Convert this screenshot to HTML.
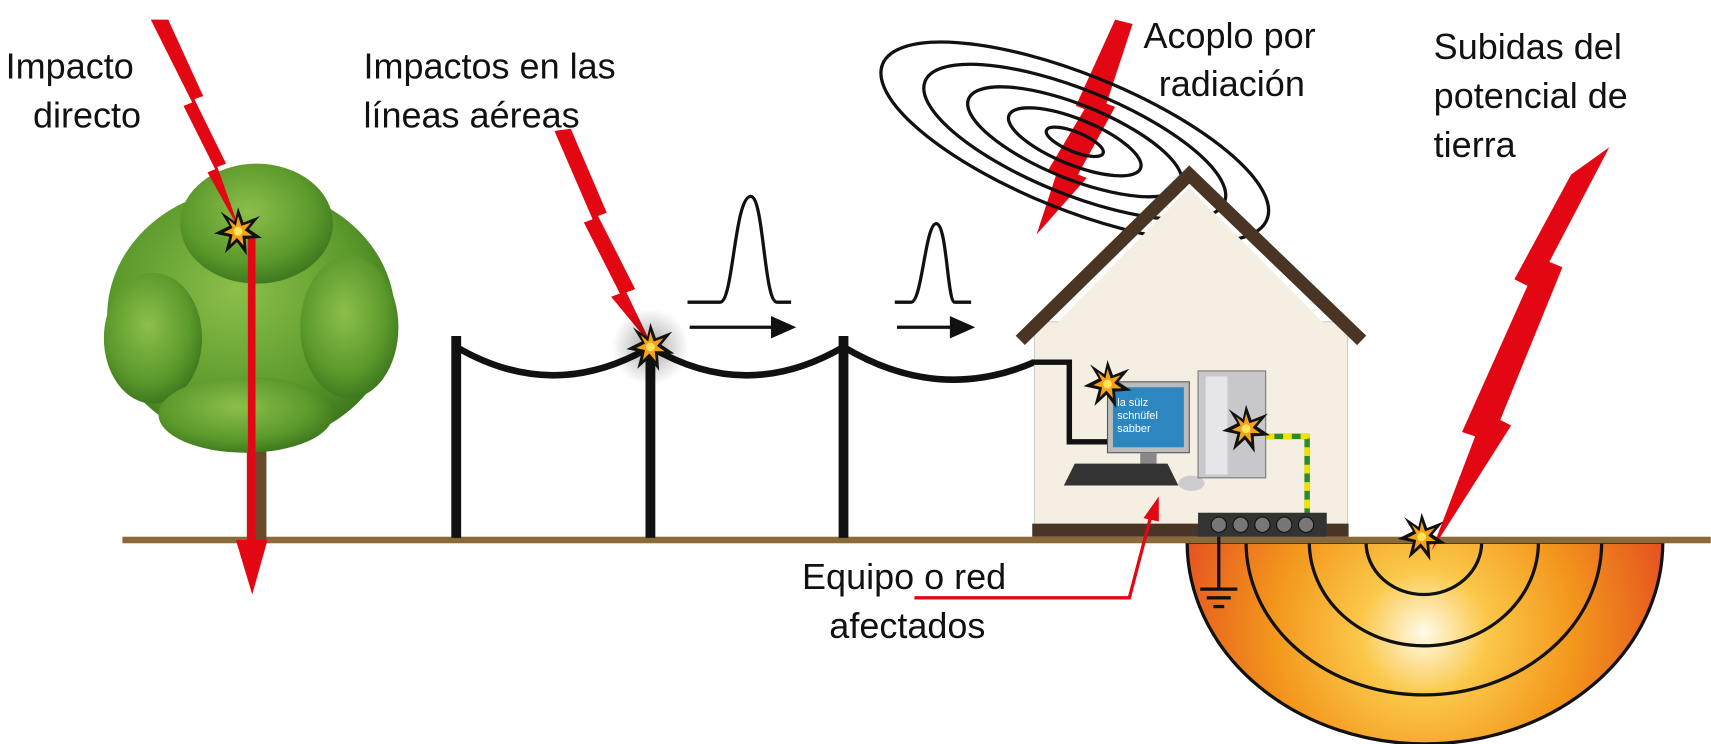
<!DOCTYPE html>
<html><head><meta charset="utf-8"><style>
html,body{margin:0;padding:0;background:#fff;}
svg{display:block}
text{font-family:"Liberation Sans",sans-serif;font-size:33px;fill:#111}
</style></head><body>
<svg width="1711" height="744" viewBox="0 0 1568 682" xmlns="http://www.w3.org/2000/svg">
<defs>
<radialGradient id="earth" cx="1305" cy="580" r="230" gradientUnits="userSpaceOnUse">
<stop offset="0" stop-color="#fffbe8"/><stop offset="0.25" stop-color="#fbc84a"/><stop offset="0.6" stop-color="#f3971c"/><stop offset="1" stop-color="#e55420"/>
</radialGradient>
<radialGradient id="tree" cx="0.45" cy="0.4" r="0.6">
<stop offset="0" stop-color="#8cbf4a"/><stop offset="0.7" stop-color="#5c9a2c"/><stop offset="1" stop-color="#3f7a1e"/>
</radialGradient>
<radialGradient id="glow" cx="0.5" cy="0.5" r="0.5">
<stop offset="0" stop-color="#000" stop-opacity="0.35"/><stop offset="1" stop-color="#000" stop-opacity="0"/>
</radialGradient>
<g id="star"><polygon points="0,-22 5,-8 20,-14 10,-2 22,6 7,7 8,22 -1,10 -12,20 -8,5 -22,2 -8,-5 -16,-18 -3,-9" fill="#111"/><polygon points="0,-14 3,-5 12,-8 6,-1 13,4 4,4 5,13 -1,6 -7,12 -5,3 -13,1 -5,-3 -9,-11 -2,-5" fill="#f6a21a"/><circle r="4" fill="#ffe45a"/></g>
</defs>

<!-- earth half disc -->
<path d="M1088 497 A218 185 0 0 0 1524 497 Z" fill="url(#earth)" stroke="#111" stroke-width="3"/>
<g fill="none" stroke="#111" stroke-width="3">
<path d="M1142 497 A163 140 0 0 0 1468 497"/>
<path d="M1200 497 A105 95 0 0 0 1410 497"/>
<path d="M1252 497 A53 48 0 0 0 1358 497"/>
</g>
<!-- ground -->
<rect x="112" y="492" width="1456" height="6" fill="#8b6a3a"/>

<!-- tree -->
<rect x="226" y="380" width="18" height="115" fill="#6b4a2a"/>
<g fill="url(#tree)">
<ellipse cx="230" cy="290" rx="132" ry="118"/>
<ellipse cx="235" cy="205" rx="70" ry="55"/>
<ellipse cx="140" cy="310" rx="45" ry="60"/>
<ellipse cx="320" cy="300" rx="45" ry="65"/>
<ellipse cx="225" cy="380" rx="80" ry="35"/>
</g>
<!-- tree arrow -->
<rect x="227" y="215" width="7" height="290" fill="#e30613"/>
<polygon points="216,495 245,495 231,545" fill="#e30613"/>

<!-- lightning bolts -->
<g fill="#e30613">
<polygon points="138,18 154,18 186,88 178,91 207,150 199,153 220,212 190,158 197,155 168,97 176,94"/>
<polygon points="508,120 523,118 556,195 548,198 582,265 574,268 598,318 560,272 568,269 535,204 543,201"/>
<polygon points="1022,18 1038,22 1014,95 1022,98 988,160 996,163 950,215 968,160 960,157 994,100 986,97"/>
<polygon points="1475,135 1420,240 1432,245 1375,385 1385,390 1312,505 1352,400 1340,396 1400,262 1388,256 1440,160"/>
</g>

<!-- radiation ellipses -->
<g fill="none" stroke="#111" stroke-width="3" transform="rotate(22 985 130)">
<ellipse cx="985" cy="130" rx="190" ry="62"/>
<ellipse cx="985" cy="130" rx="148" ry="48"/>
<ellipse cx="985" cy="130" rx="105" ry="34"/>
<ellipse cx="985" cy="130" rx="65" ry="21"/>
<ellipse cx="985" cy="130" rx="28" ry="9"/>
</g>

<!-- poles and wires -->
<g stroke="#111" stroke-width="9" fill="none">
<line x1="418" y1="308" x2="418" y2="493"/>
<line x1="596" y1="310" x2="596" y2="493"/>
<line x1="773" y1="308" x2="773" y2="493"/>
<path d="M418 318 Q507 370 596 318 Q684 370 773 318 Q860 370 948 332" stroke-width="6"/>
</g>
<!-- pulses -->
<g stroke="#111" stroke-width="3" fill="none">
<path d="M630 277 H660 C672 277 673 180 688 180 C700 180 700 277 712 277 H725"/>
<path d="M632 300 H718"/><polygon points="726,300 708,292 708,308" fill="#111"/>
<path d="M820 277 H835 C845 277 848 205 858 205 C868 205 868 277 875 277 H890"/>
<path d="M822 300 H882"/><polygon points="890,300 872,292 872,308" fill="#111"/>
</g>

<!-- house -->
<rect x="948" y="295" width="287" height="195" fill="#f4efe2" stroke="#ccc" stroke-width="1"/>
<polygon points="1090,172 960,305 1222,305" fill="#f4efe2"/>
<polyline points="935,312 1090,160 1248,312" fill="none" stroke="#4a3524" stroke-width="12"/>
<rect x="946" y="480" width="290" height="12" fill="#4a3524"/>
<path d="M945 332 H980 V405 H1015" fill="none" stroke="#111" stroke-width="5"/>
<path d="M1160 400 H1198 V472" fill="none" stroke="#2c8a2c" stroke-width="5"/>
<path d="M1160 400 H1198 V472" fill="none" stroke="#f2e200" stroke-width="5" stroke-dasharray="8 8"/>
<rect x="1015" y="350" width="75" height="65" fill="#bbb" stroke="#555"/>
<rect x="1020" y="355" width="65" height="55" fill="#2c86c0"/>
<text x="1024" y="372" style="font-size:10px;fill:#fff">la sülz</text>
<text x="1024" y="384" style="font-size:10px;fill:#fff">schnüfel</text>
<text x="1024" y="396" style="font-size:10px;fill:#fff">sabber</text>
<rect x="1045" y="415" width="15" height="12" fill="#888"/>
<polygon points="985,425 1070,425 1080,445 975,445" fill="#333"/>
<ellipse cx="1092" cy="443" rx="12" ry="7" fill="#ccc"/>
<rect x="1098" y="340" width="62" height="98" fill="#c8c8cc" stroke="#777"/>
<rect x="1105" y="345" width="20" height="90" fill="#e6e6ea"/>
<rect x="1098" y="470" width="118" height="22" fill="#333"/>
<g fill="#777" stroke="#111"><circle cx="1117" cy="481" r="7"/><circle cx="1137" cy="481" r="7"/><circle cx="1157" cy="481" r="7"/><circle cx="1177" cy="481" r="7"/><circle cx="1197" cy="481" r="7"/></g>
<g stroke="#111" stroke-width="3"><line x1="1117" y1="492" x2="1117" y2="540"/><line x1="1100" y1="540" x2="1134" y2="540"/><line x1="1106" y1="548" x2="1128" y2="548"/><line x1="1112" y1="556" x2="1122" y2="556"/></g>

<!-- stars -->
<circle cx="596" cy="318" r="35" fill="url(#glow)"/>
<use href="#star" x="218" y="212"/>
<use href="#star" x="596" y="318"/>
<use href="#star" x="1015" y="352"/>
<use href="#star" x="1142" y="393"/>
<use href="#star" x="1303" y="492"/>

<!-- callout line -->
<path d="M838 548 H1035 L1055 472" fill="none" stroke="#e30613" stroke-width="3"/>
<polygon points="1062,455 1048,475 1062,478" fill="#e30613"/>

<!-- labels -->
<text x="5" y="72">Impacto</text>
<text x="30" y="117">directo</text>
<text x="333" y="72">Impactos en las</text>
<text x="333" y="117">líneas aéreas</text>
<text x="1048" y="44">Acoplo por</text>
<text x="1062" y="88">radiación</text>
<text x="1314" y="54">Subidas del</text>
<text x="1314" y="99">potencial de</text>
<text x="1314" y="144">tierra</text>
<text x="735" y="540">Equipo o red</text>
<text x="760" y="585">afectados</text>
</svg>
</body></html>
